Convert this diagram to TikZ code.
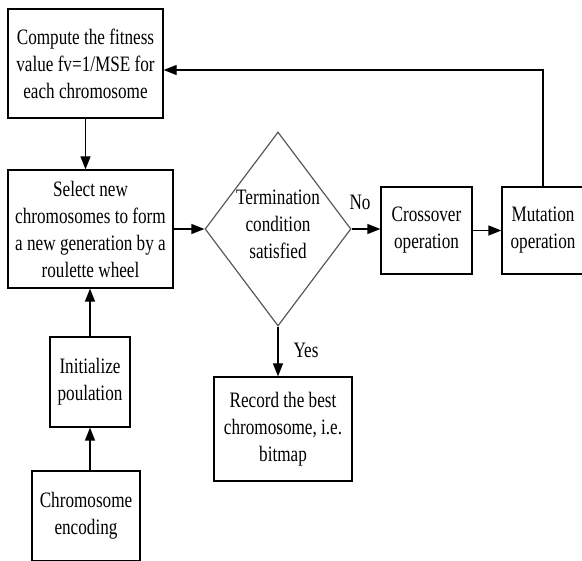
\documentclass[tikz,border=0pt]{standalone}
\usepackage{fontspec}
\setmainfont{Liberation Serif}[FakeStretch=0.78]
\usetikzlibrary{shapes.geometric,arrows.meta,calc}
\begin{document}
\begin{tikzpicture}[x=1pt,y=-1pt,
  box/.style={draw=black,line width=1.2pt,rectangle,inner sep=0pt,align=center,
    font=\fontsize{22}{27}\selectfont},
  lbl/.style={inner sep=0pt,font=\fontsize{22}{27}\selectfont},
  arr/.style={line width=1.2pt,-{Triangle[length=13pt,width=10pt]}},
  ln/.style={line width=1.2pt}]
\useasboundingbox (0,0) rectangle (582,561);
\node[box,minimum width=155pt,minimum height=109pt] (c) at (85.5,63.5)
  {Compute the fitness\\value fv=1/MSE for\\each chromosome};
\node[box,minimum width=165pt,minimum height=118pt] (s) at (90.5,229)
  {Select new\\chromosomes to form\\a new generation by a\\roulette wheel};
\node[draw=black!65,line width=1.2pt,diamond,inner sep=0pt,minimum width=146pt,minimum height=194pt] (d) at (278,229) {};
\node[lbl,align=center] (dt) at (278,224) {Termination\\condition\\satisfied};
\node[box,minimum width=91pt,minimum height=87pt] (x) at (426.5,230.5) {Crossover\\operation};
\node[box,minimum width=82pt,minimum height=87pt] (m) at (543,230.5) {Mutation\\operation};
\node[box,minimum width=138pt,minimum height=104pt] (r) at (283,429)
  {Record the best\\chromosome, i.e.\\bitmap};
\node[box,minimum width=80pt,minimum height=90pt] (i) at (90,382) {Initialize\\poulation};
\node[box,minimum width=108pt,minimum height=90pt] (e) at (86,516) {Chromosome\\encoding};
\node[lbl] (no) at (360,202) {No};
\node[lbl] (yes) at (306,350) {Yes};
\coordinate (fb) at (0,70);
\draw[arr] (c.south) -- (c.south |- s.north);
\draw[arr] (s.east) -- (d.west);
\draw[arr] (d.east) -- (d.east -| x.west);
\draw[arr] (x.east) -- (m.west);
\draw[arr] (m.north) |- (c.east |- fb);
\draw[arr] (d.south) -- (d.south |- r.north);
\draw[arr] (i.north) -- (i.north |- s.south);
\draw[arr] (i.south |- e.north) -- (i.south);
\end{tikzpicture}
\end{document}
